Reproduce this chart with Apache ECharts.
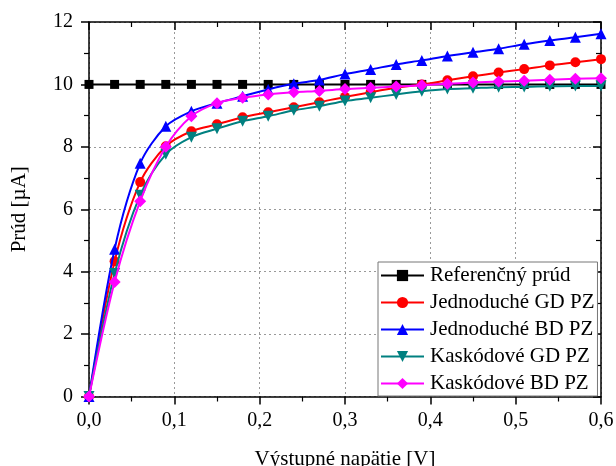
<!DOCTYPE html>
<html>
<head>
<meta charset="utf-8">
<script src="https://cdn.jsdelivr.net/npm/echarts@6/dist/echarts.min.js"></script>
<style>
  html, body { margin: 0; padding: 0; background: #fff; }
  #chart { width: 616px; height: 466px; }
</style>
</head>
<body>
<div id="chart"></div>
<script>
// napätie [V], krok 0,03 V
const voltage = [0, 0.03, 0.06, 0.09, 0.12, 0.15, 0.18, 0.21, 0.24, 0.27, 0.30,
  0.33, 0.36, 0.39, 0.42, 0.45, 0.48, 0.51, 0.54, 0.57, 0.60]

const referencny = [10, 10, 10, 10, 10, 10, 10, 10, 10, 10, 10,
  10, 10, 10, 10, 10, 10, 10, 10, 10, 10]
const jednoducheGD = [0, 4.33, 6.87, 8.02, 8.50, 8.72, 8.95, 9.11, 9.27, 9.43, 9.60,
  9.75, 9.89, 10.0, 10.13, 10.26, 10.38, 10.49, 10.61, 10.71, 10.81]
const jednoducheBD = [0, 4.72, 7.47, 8.66, 9.14, 9.40, 9.62, 9.84, 10.02, 10.14, 10.33,
  10.48, 10.64, 10.77, 10.91, 11.03, 11.14, 11.29, 11.41, 11.51, 11.62]
const kaskodoveGD = [0, 3.94, 6.45, 7.76, 8.31, 8.58, 8.82, 8.98, 9.17, 9.30, 9.47,
  9.57, 9.68, 9.78, 9.85, 9.88, 9.91, 9.92, 9.94, 9.95, 9.95]
const kaskodoveBD = [0, 3.67, 6.26, 8.00, 8.98, 9.40, 9.57, 9.68, 9.75, 9.79, 9.85,
  9.89, 9.93, 9.97, 10.02, 10.06, 10.09, 10.12, 10.15, 10.18, 10.20]

const seriesDef = [
  { name: 'Referenčný prúd', data: referencny, color: '#000000', symbol: 'rect', size: 9, rotate: 0 },
  { name: 'Jednoduché GD PZ', data: jednoducheGD, color: '#ff0000', symbol: 'circle', size: 10, rotate: 0 },
  { name: 'Jednoduché BD PZ', data: jednoducheBD, color: '#0000ff', symbol: 'triangle', size: 11, rotate: 0 },
  { name: 'Kaskódové GD PZ', data: kaskodoveGD, color: '#008080', symbol: 'triangle', size: 11, rotate: 180 },
  { name: 'Kaskódové BD PZ', data: kaskodoveBD, color: '#ff00ff', symbol: 'diamond', size: 12, rotate: 0 }
]

const font = 'Liberation Serif'
const fs = 20
const chart = echarts.init(document.getElementById('chart'))

// horná a pravá os - len rám s tickmi dovnútra
const frameAxis = {
  axisLine: { show: true, onZero: false, lineStyle: { color: '#000', width: 1.5 } },
  axisTick: { show: true, inside: true, length: 8, lineStyle: { color: '#000', width: 1.5 } },
  minorTick: { show: true, splitNumber: 2, length: 5, lineStyle: { color: '#000', width: 1.2 } },
  axisLabel: { show: false },
  splitLine: { show: false }
}

const option = {
  animation: false,
  backgroundColor: '#fff',
  grid: { left: 89, right: 15, top: 22, bottom: 69.5, outerBoundsMode: 'none', containLabel: false },
  textStyle: { fontFamily: font },
  xAxis: [
    {
      type: 'value', min: 0, max: 0.6, interval: 0.1, position: 'bottom',
      name: 'Výstupné napätie [V]', nameLocation: 'middle', nameGap: 52,
      nameTextStyle: { fontFamily: font, fontSize: 21, color: '#000' },
      axisLine: { show: true, onZero: false, lineStyle: { color: '#000', width: 1.5 } },
      axisTick: { show: true, inside: false, length: 8, lineStyle: { color: '#000', width: 1.5 } },
      minorTick: { show: true, splitNumber: 2, length: 5, lineStyle: { color: '#000', width: 1.2 } },
      axisLabel: {
        fontFamily: font, fontSize: fs, color: '#000', margin: 14,
        formatter: v => v.toFixed(1).replace('.', ',')
      },
      splitLine: { show: true, lineStyle: { color: '#999', type: [2, 3], width: 1 } }
    },
    Object.assign({ type: 'value', min: 0, max: 0.6, interval: 0.1, position: 'top', gridIndex: 0 }, frameAxis)
  ],
  yAxis: [
    {
      type: 'value', min: 0, max: 12, interval: 2, position: 'left',
      name: 'Prúd [µA]', nameLocation: 'middle', nameGap: 59,
      nameTextStyle: { fontFamily: font, fontSize: 21, color: '#000' },
      axisLine: { show: true, onZero: false, lineStyle: { color: '#000', width: 1.5 } },
      axisTick: { show: true, inside: false, length: 8, lineStyle: { color: '#000', width: 1.5 } },
      minorTick: { show: true, splitNumber: 2, length: 5, lineStyle: { color: '#000', width: 1.2 } },
      axisLabel: { fontFamily: font, fontSize: fs, color: '#000', margin: 16 },
      splitLine: { show: true, lineStyle: { color: '#999', type: [2, 3], width: 1 } }
    },
    Object.assign({ type: 'value', min: 0, max: 12, interval: 2, position: 'right', gridIndex: 0 }, frameAxis)
  ],
  legend: {
    orient: 'vertical',
    left: 378, top: 262,
    backgroundColor: '#fff',
    borderColor: '#777', borderWidth: 1, borderRadius: 0,
    padding: [3, 3, 2, 2],
    itemWidth: 43, itemHeight: 14, itemGap: 6,
    textStyle: { fontFamily: font, fontSize: 21, color: '#000', lineHeight: 21, padding: [0, 0, 0, 1] },
    data: seriesDef.map(s => s.name)
  },
  series: seriesDef.map((s, i) => ({
    name: s.name,
    type: 'line',
    xAxisIndex: 0,
    yAxisIndex: 0,
    data: voltage.map((x, k) => [x, s.data[k]]),
    smooth: 0.3,
    symbol: s.symbol,
    symbolSize: s.size,
    symbolRotate: s.rotate,
    showAllSymbol: true,
    z: 2 + i,
    itemStyle: { color: s.color },
    lineStyle: { color: s.color, width: 2 }
  }))
}

chart.setOption(option)
</script>
</body>
</html>
